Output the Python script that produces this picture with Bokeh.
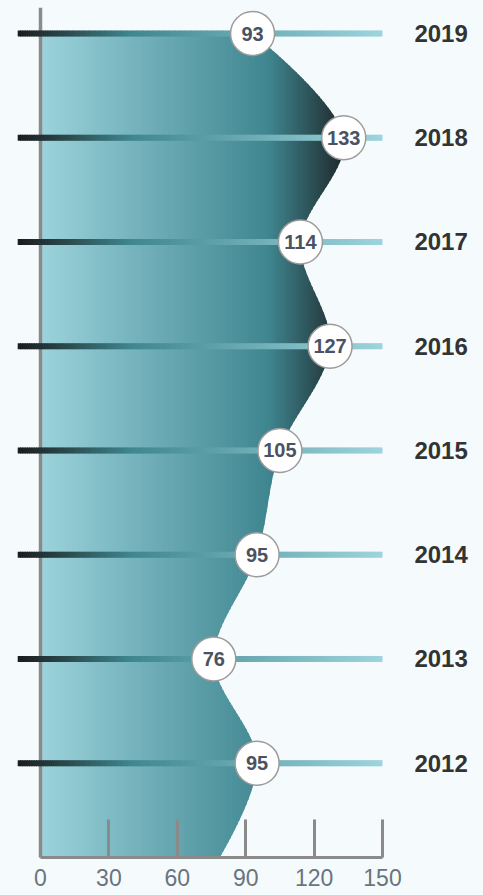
import numpy as np
from bokeh.plotting import figure
from bokeh.models import FixedTicker, ColumnDataSource
from bokeh.core.properties import value
from bokeh.embed import file_html
from bokeh.resources import INLINE

# ---------------- data ----------------
years = [2012, 2013, 2014, 2015, 2016, 2017, 2018, 2019]
values = [95, 76, 95, 105, 127, 114, 133, 93]
year_labels = ["2012", "2013", "2014", "2015", "2016", "2017", "2018", "2019"]
value_labels = ["95", "76", "95", "105", "127", "114", "133", "93"]
# the area continues below the visible range (clipped by the axis)
tail_year = 2011
tail_value = 76
x_ticks = [0, 30, 60, 90, 120, 150]

# ---------------- styles ----------------
BG = "#f5fbfc"
AXIS_COLOR = "#8a8a8a"
FONT = "Liberation Sans"
area_stops = [(0.0, (156, 211, 220)), (100.0, (63, 134, 144)), (134.0, (30, 38, 40))]
line_stops = [(-10.0, (27, 28, 29)), (40.0, (64, 135, 143)), (150.0, (158, 212, 221))]

PX_PER_UNIT = 342 / 150.0      # horizontal scale (px per value unit)
PX_PER_YEAR = 729.7 / 7        # vertical scale (px per year)
FIG_W, FIG_H = 483, 895
BORDER_TOP, BORDER_BOTTOM = 7, 38
FRAME_W = FIG_W
FRAME_H = FIG_H - BORDER_TOP - BORDER_BOTTOM


def lerp_color(stops, v):
    if v <= stops[0][0]:
        c = stops[0][1]
    elif v >= stops[-1][0]:
        c = stops[-1][1]
    else:
        for (p0, c0), (p1, c1) in zip(stops[:-1], stops[1:]):
            if p0 <= v <= p1:
                f = (v - p0) / (p1 - p0)
                c = tuple(c0[k] + f * (c1[k] - c0[k]) for k in range(3))
                break
    return "#%02x%02x%02x" % tuple(int(round(x)) for x in c)


def catmull_rom(P, alpha=0.5, nseg=80):
    """Centripetal Catmull-Rom (as d3.curveCatmullRom), P in pixel space."""
    P = np.asarray(P, float)
    n = len(P)
    out = []
    tt = np.linspace(0, 1, nseg)[:, None]
    for i in range(n - 1):
        p1, p2 = P[i], P[i + 1]
        l12 = np.hypot(*(p2 - p1))
        l12_a, l12_2a = l12 ** alpha, l12 ** (2 * alpha)
        if i > 0:
            p0 = P[i - 1]
            l01 = np.hypot(*(p1 - p0))
            l01_a, l01_2a = l01 ** alpha, l01 ** (2 * alpha)
            a = 2 * l01_2a + 3 * l01_a * l12_a + l12_2a
            nn = 3 * l01_a * (l01_a + l12_a)
            c1 = (p1 * a - p0 * l12_2a + p2 * l01_2a) / nn
        else:
            c1 = p1
        if i + 2 < n:
            p3 = P[i + 2]
            l23 = np.hypot(*(p3 - p2))
            l23_a, l23_2a = l23 ** alpha, l23 ** (2 * alpha)
            b = 2 * l23_2a + 3 * l23_a * l12_a + l12_2a
            m = 3 * l23_a * (l23_a + l12_a)
            c2 = (p2 * b + p1 * l23_2a - p3 * l12_2a) / m
        else:
            c2 = p2
        seg = ((1 - tt) ** 3) * p1 + 3 * ((1 - tt) ** 2) * tt * c1 + 3 * (1 - tt) * tt ** 2 * c2 + tt ** 3 * p2
        out.append(seg if i == 0 else seg[1:])
    return np.vstack(out)


# ---------------- figure ----------------
x_start = -40 / PX_PER_UNIT
x_end = x_start + FRAME_W / PX_PER_UNIT
y_end = years[-1] + (33 - BORDER_TOP) / PX_PER_YEAR
y_start = y_end - FRAME_H / PX_PER_YEAR

p = figure(width=FIG_W, height=FIG_H,
           x_range=(x_start, x_end), y_range=(y_start, y_end),
           output_backend="svg", toolbar_location=None,
           y_axis_location=None,
           min_border_left=0, min_border_right=0,
           min_border_top=BORDER_TOP, min_border_bottom=BORDER_BOTTOM,
           background_fill_color=BG, border_fill_color=BG, outline_line_color=None)
p.grid.visible = False

# ---------------- gradient area (vertical strips) ----------------
ky = np.array([tail_year] + years, float)
kv = np.array([tail_value] + values, float)
pts_px = np.column_stack([kv * PX_PER_UNIT, ky * PX_PER_YEAR])
curve = catmull_rom(pts_px)
cv = curve[:, 0] / PX_PER_UNIT
cy = curve[:, 1] / PX_PER_YEAR
order = np.argsort(cy)
ys = np.linspace(tail_year, years[-1], 1601)
fx = np.interp(ys, cy[order], cv[order])

xs_list, ys_list, cols = [], [], []
step = 1.0
a = 0.0
vmax = max(values) + 2
while a < vmax:
    right = np.clip(fx, a, a + step * 1.5)
    xs_list.append(list(np.full_like(ys, a)) + list(right[::-1]))
    ys_list.append(list(ys) + list(ys[::-1]))
    cols.append(lerp_color(area_stops, a + step / 2))
    a += step
p.patches(xs="xs", ys="ys", fill_color="c", line_color=None,
          source=ColumnDataSource(dict(xs=xs_list, ys=ys_list, c=cols)))

# left vertical line
p.segment(x0=[0], y0=[y_start], x1=[0], y1=[y_end], line_color=AXIS_COLOR, line_width=3.5)

# ---------------- gradient year lines ----------------
gx = np.arange(-10, 150, 1.0)
sx0, sx1, sy, sc = [], [], [], []
for yr in years:
    for x in gx:
        sx0.append(x)
        sx1.append(min(x + 1.4, 150))
        sy.append(yr)
        sc.append(lerp_color(line_stops, x + 0.5))
p.segment(x0="x0", y0="y", x1="x1", y1="y", line_color="c", line_width=6, line_cap="butt",
          source=ColumnDataSource(dict(x0=sx0, x1=sx1, y=sy, c=sc)))

# ---------------- circles + labels ----------------
p.scatter(x=values, y=years, size=44, fill_color="white", line_color="#9c9c9c", line_width=1.5)
p.text(x=values, y=years, text=value_labels, text_align="center", text_baseline="middle",
       text_font=value(FONT), text_font_style="bold", text_font_size="20px", text_color="#4a5263")

label_x = x_ticks[-1] + 14
p.text(x=[label_x] * len(years), y=years, text=year_labels, text_align="left",
       text_baseline="middle", text_font=value(FONT), text_font_style="bold",
       text_font_size="24px", text_color="#333333")

# ---------------- axis ----------------
ax = p.xaxis[0]
ax.ticker = FixedTicker(ticks=x_ticks)
ax.bounds = (x_ticks[0], x_ticks[-1])
ax.major_tick_in = 38
ax.major_tick_out = 0
ax.minor_tick_line_color = None
ax.axis_line_color = AXIS_COLOR
ax.axis_line_width = 3
ax.major_tick_line_color = AXIS_COLOR
ax.major_tick_line_width = 3
ax.major_label_text_font = FONT
ax.major_label_text_font_size = "23px"
ax.major_label_text_color = "#6b737d"
ax.major_label_standoff = 11

html = file_html(p, INLINE)
html = html.replace(
    "<head>",
    "<head><style>html,body{margin:0;padding:0;overflow:hidden;background:#f5fbfc;}</style>", 1)
open("out.html", "w").write(html)
